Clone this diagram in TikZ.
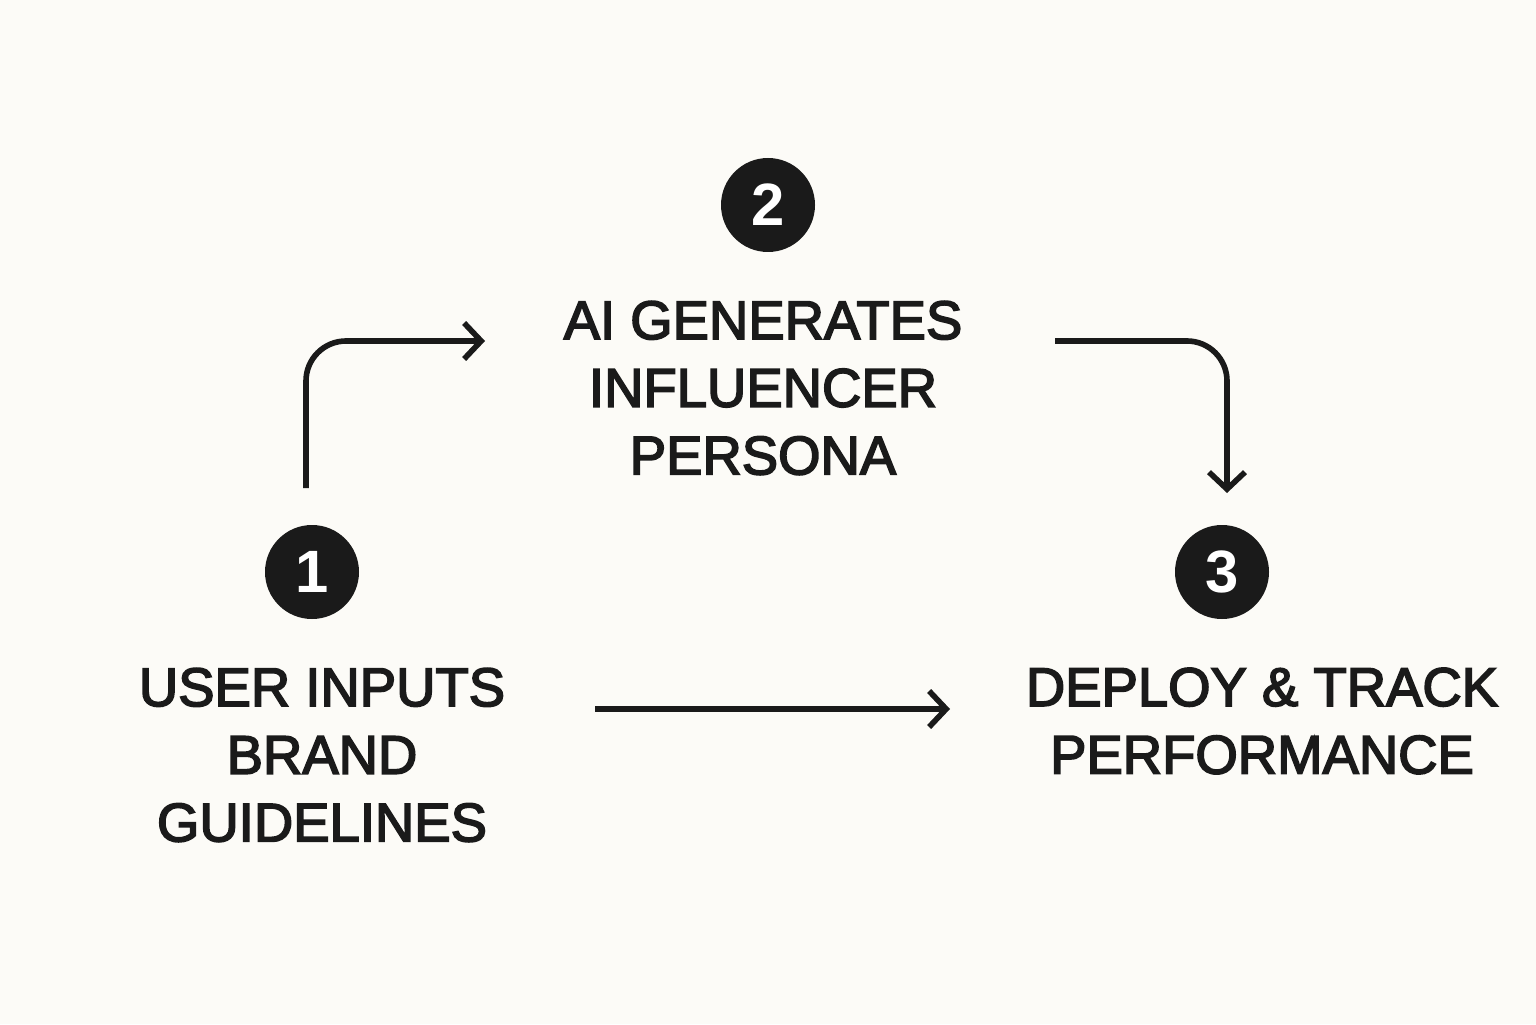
\documentclass[tikz,border=0pt]{standalone}
\usepackage{fontspec}
\setmainfont{Liberation Sans}
\newfontfamily\stepfont{Liberation Sans}[FakeBold=3]
\usetikzlibrary{arrows.meta}
\definecolor{paper}{HTML}{FCFBF7}
\definecolor{ink}{HTML}{1A1A1A}
\begin{document}
\begin{tikzpicture}[
            badge/.style={circle, fill=ink, text=white, minimum size=1.88cm, inner sep=0pt, font=\fontsize{34}{34}\selectfont\bfseries},
            label/.style={align=center, text=ink, font=\stepfont\fontsize{31}{38.5}\selectfont},
            flow/.style={draw=ink, line width=3.2pt, rounded corners=0.8cm, -{Straight Barb[length=0.34cm, width=0.72cm, line width=3.2pt]}}]
            \fill[paper] (0,0) rectangle (30.72,20.48);
            \useasboundingbox (0,0) rectangle (30.72,20.48);

            \node[badge] (n1) at (6.24, 9.04) {1};
            \node[badge] (n2) at (15.36, 16.38) {2};
            \node[badge] (n3) at (24.44, 9.04) {3};

            \node[label] (l1) at (6.44, 5.38) {USER INPUTS\\BRAND\\GUIDELINES};
            \node[label] (l2) at (15.26, 12.72) {AI GENERATES\\INFLUENCER\\PERSONA};
            \node[label] (l3) at (25.24, 6.06) {DEPLOY \& TRACK\\PERFORMANCE};

            \coordinate (a1s) at (6.12, 10.72);
            \coordinate (a1e) at (9.70, 13.66);
            \coordinate (a2s) at (21.10, 13.66);
            \coordinate (a2e) at (24.54, 10.62);
            \coordinate (a3s) at (11.90, 6.30);
            \coordinate (a3e) at (19.00, 6.30);

            \draw[flow] (a1s) |- (a1e);
            \draw[flow] (a2s) -| (a2e);
            \draw[flow] (a3s) -- (a3e);
        \end{tikzpicture}
\end{document}
